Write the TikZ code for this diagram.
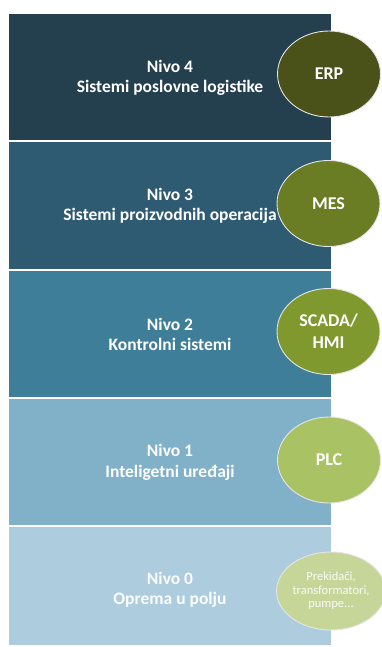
\documentclass[tikz,border=0pt]{standalone}
\usepackage{fontspec}
\setmainfont{Carlito}
\usetikzlibrary{shapes.geometric}
\definecolor{lv4}{HTML}{243F4E}
\definecolor{lv3}{HTML}{2E5B71}
\definecolor{lv2}{HTML}{3F7E98}
\definecolor{lv1}{HTML}{80B1C8}
\definecolor{lv0}{HTML}{ADCCDD}
\definecolor{el4}{HTML}{4A521A}
\definecolor{el3}{HTML}{6A7C24}
\definecolor{el2}{HTML}{7F992F}
\definecolor{el1}{HTML}{A9C263}
\definecolor{el0}{HTML}{C6D699}
\tikzset{
  level/.style={fill=#1, draw=none},
  leveltext/.style={text=white, font=\fontsize{17.5}{20.5}\selectfont\bfseries, align=center},
  tag/.style={ellipse, fill=#1, draw=white!90!black, line width=0.9pt, minimum width=103pt, minimum height=86pt, inner sep=0pt, text=white, font=\fontsize{18}{22}\selectfont\bfseries, align=center},
}
\begin{document}
\begin{tikzpicture}[x=1pt,y=-1pt]
\useasboundingbox (0,0) rectangle (382,647);
\fill[white] (0,0) rectangle (382,647);
% level strips
\path[level=lv4] (9,14) rectangle (331,140);
\path[level=lv3] (9,142) rectangle (331,268.5);
\path[level=lv2] (9,270.5) rectangle (331,397);
\path[level=lv1] (9,399) rectangle (331,525);
\path[level=lv0] (9,527) rectangle (331,645);
% level texts
\node[leveltext] (t4) at (170,78) {Nivo 4\\Sistemi poslovne logistike};
\node[leveltext] (t3) at (170,206) {Nivo 3\\Sistemi proizvodnih operacija};
\node[leveltext] (t2) at (170,334.5) {Nivo 2\\Kontrolni sistemi};
\node[leveltext] (t1) at (170,462.5) {Nivo 1\\Inteligetni uređaji};
\node[leveltext, text=white!96!lv0] (t0) at (170,590) {Nivo 0\\Oprema u polju};
% ellipses
\node[tag=el4] (erp) at (329,74) {ERP};
\node[tag=el3] (mes) at (328.5,203.5) {MES};
\node[tag=el2] (scada) at (328.5,331.5) {SCADA/\\HMI};
\node[tag=el1] (plc) at (329,460) {PLC};
\node[tag=el0, minimum width=101pt, minimum height=78pt, font=\fontsize{12.5}{13.5}\selectfont, text=white!92!el0] (dev) at (331,591) {Prekidači,\\transformatori,\\pumpe...};
\end{tikzpicture}
\end{document}
